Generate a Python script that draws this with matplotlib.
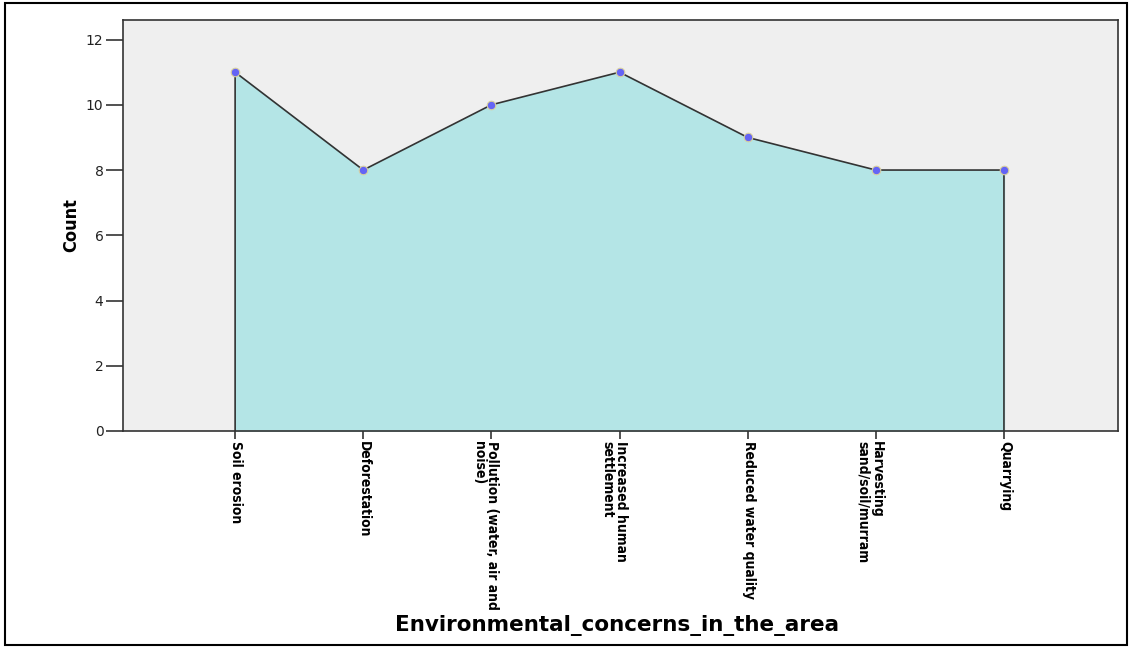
import matplotlib
matplotlib.use("Agg")
import matplotlib.pyplot as plt
import matplotlib.transforms as mtransforms
from matplotlib.patches import Rectangle

categories = ["Soil erosion", "Deforestation", "Pollution (water, air and\nnoise)",
              "Increased human\nsettlement", "Reduced water quality",
              "Harvesting\nsand/soil/murram", "Quarrying"]
counts = [11, 8, 10, 11, 9, 8, 8]
yticks = [0, 2, 4, 6, 8, 10, 12]

narrow = ["Liberation Sans Narrow", "DejaVu Sans"]

fig = plt.figure(figsize=(11.33, 6.48), dpi=100)
ax = fig.add_axes([123 / 1133, 1 - 431 / 648, (1118 - 123) / 1133, (431 - 20) / 648])
ax.set_facecolor("#efefef")

x = list(range(len(counts)))
ax.fill_between(x, counts, 0, color="#b4e5e6", zorder=1)
# outline incl. vertical edges at both ends
ax.plot([x[0]] + x + [x[-1]], [0] + counts + [0], color="#333333", lw=1.2, zorder=2)
ax.scatter(x, counts, s=38, color="#6464f5", edgecolors="#d8d0a0", linewidths=0.8, zorder=3)

ax.set_xlim(-0.875, 6.89)
ax.set_ylim(0, 12.6)
ax.set_yticks(yticks)
ax.set_yticklabels([str(v) for v in yticks], fontsize=10, color="#222222")
ax.tick_params(axis="y", length=12, width=1.2, color="#333333", pad=2)
ax.tick_params(axis="x", length=6, width=1.2, color="#333333", pad=1)

ax.set_xticks(x)
ax.set_xticklabels(categories, rotation=-90, rotation_mode="anchor", ha="left", va="top",
                   fontsize=10, fontweight="bold", family=narrow, fontstretch="condensed",
                   linespacing=0.95)
offset = mtransforms.ScaledTranslation(8 / 100, 0, fig.dpi_scale_trans)
for lbl in ax.get_xticklabels():
    lbl.set_transform(lbl.get_transform() + offset)

for sp in ax.spines.values():
    sp.set_color("#333333")
    sp.set_linewidth(1.2)

ax.set_ylabel("Count", fontsize=13, fontweight="bold", family=narrow,
              fontstretch="condensed", labelpad=4)
fig.text(617 / 1133, 1 - 625 / 648, "Environmental_concerns_in_the_area",
         ha="center", va="center", fontsize=15.5, fontweight="bold", family="DejaVu Sans")

# outer frame
fig.patches.append(Rectangle((5 / 1133, 1 - 645 / 648), (1127 - 5) / 1133, (645 - 3) / 648,
                             transform=fig.transFigure, fill=False, edgecolor="black", lw=1.5))

fig.savefig("out.png", dpi=100)
